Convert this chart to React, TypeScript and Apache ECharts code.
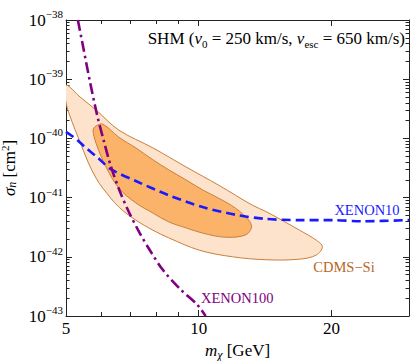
import React, { useEffect, useRef } from 'react';
import * as echarts from 'echarts';

// axis ranges (mass in GeV, cross-section as log10(sigma / cm^2))
const X_MIN = 5;
const X_MAX = 30;
const Y_MIN = -43;
const Y_MAX = -38;
const xMajorTicks = [10, 20];
const xMinorTicks = [5, 6, 7, 8, 9];
const xTickLabels = [5, 10, 20];
const yDecades = [-43, -42, -41, -40, -39, -38];
const yMinorMantissas = [2, 3, 4, 5, 6, 7, 8, 9];

// [m_chi (GeV), log10 sigma_n]
const cdmsOuter: [number, number][] = [
  [5.0, -39.1], [5.38, -39.3], [5.85, -39.52], [6.59, -39.86], [7.87, -40.16], [9.35, -40.48],
  [11.1, -40.79], [13.25, -41.13], [14.25, -41.24], [16.93, -41.55], [18.49, -41.72], [19.08, -41.83],
  [18.49, -41.97], [16.93, -42.04], [14.25, -42.05], [11.94, -42.0], [10.05, -41.89], [8.55, -41.68],
  [7.87, -41.55], [7.2, -41.38], [6.59, -41.16], [6.06, -40.84], [5.85, -40.67], [5.61, -40.4],
  [5.38, -40.06], [5.16, -39.72], [5.0, -39.39],
];
const cdmsInner: [number, number][] = [
  [5.76, -39.86], [5.85, -39.79], [6.06, -39.76], [6.59, -39.98], [7.2, -40.16], [7.87, -40.36],
  [8.55, -40.53], [9.35, -40.7], [10.21, -40.87], [11.1, -41.01], [12.13, -41.18], [12.98, -41.38],
  [13.18, -41.5], [12.78, -41.63], [11.51, -41.67], [10.21, -41.6], [9.35, -41.51], [8.55, -41.41],
  [7.87, -41.26], [7.2, -41.09], [6.59, -40.84], [6.16, -40.48], [5.85, -40.08],
];
const xenon10: [number, number][] = [
  [5.0, -39.89], [5.27, -40.01], [5.55, -40.16], [5.91, -40.33], [6.32, -40.52], [7.2, -40.72],
  [8.55, -40.96], [10.21, -41.16], [12.13, -41.29], [14.18, -41.36], [16.93, -41.38], [20.1, -41.38],
  [23.51, -41.4], [30.0, -41.38],
];
const xenon100: [number, number][] = [
  [5.32, -38.0], [5.49, -38.52], [5.67, -39.05], [5.88, -39.6], [6.1, -40.06], [6.32, -40.47],
  [6.62, -40.89], [6.94, -41.24], [7.35, -41.6], [7.75, -41.89], [8.29, -42.22], [9.06, -42.54],
  [9.9, -42.8], [10.37, -43.0],
];

const SERIF = 'Liberation Serif';
const lg = Math.log10;
const toXY = (arr: [number, number][]) => arr.map(([m, s]) => [lg(m), s]);

const yMinorTicks: number[] = [];
yDecades.slice(0, -1).forEach((d) => yMinorMantissas.forEach((k) => yMinorTicks.push(d + lg(k))));

const GRID = { left: 66, top: 20, width: 343, height: 296, containLabel: false, outerBoundsMode: 'none' };
const FRAME = '#222';

const tok = (size: number, extra: any = {}) => ({
  fontFamily: SERIF, fontSize: size, lineHeight: size, color: '#000', fontWeight: 'normal', ...extra,
});

function xAxisDef(gridIndex: number, position: string, ticks: number[], len: number, labels: boolean, line: boolean) {
  const ax: any = {
    type: 'value', gridIndex, position, min: lg(X_MIN), max: lg(X_MAX),
    splitLine: { show: false },
    axisLine: { show: line, onZero: false, lineStyle: { color: FRAME, width: 1 } },
    axisTick: { show: true, inside: true, length: len, customValues: ticks.map(lg), lineStyle: { color: FRAME, width: 1 } },
    axisLabel: {
      show: labels, customValues: xTickLabels.map(lg), margin: 4,
      color: '#000', fontFamily: SERIF, fontSize: 17,
      formatter: (v: number) => String(Math.round(Math.pow(10, v))),
    },
  };
  if (labels) {
    ax.name = '{i|m}{sub|\u03c7}{n| [GeV]}';
    ax.nameLocation = 'middle';
    ax.nameGap = 19;
    ax.nameTextStyle = {
      fontWeight: 'normal',
      rich: {
        n: tok(17, { verticalAlign: 'top' }),
        i: tok(17, { fontStyle: 'italic', verticalAlign: 'top' }),
        sub: tok(12, { fontStyle: 'italic', padding: [7, 0, 0, 0], verticalAlign: 'top' }),
      },
    };
  }
  return ax;
}
function yAxisDef(gridIndex: number, position: string, ticks: number[], len: number, labels: boolean, line: boolean) {
  const ax: any = {
    type: 'value', gridIndex, position, min: Y_MIN, max: Y_MAX,
    splitLine: { show: false },
    axisLine: { show: line, onZero: false, lineStyle: { color: FRAME, width: 1 } },
    axisTick: { show: true, inside: true, length: len, customValues: ticks, lineStyle: { color: FRAME, width: 1 } },
    axisLabel: {
      show: labels, customValues: yDecades, margin: 3,
      formatter: (v: number) => {
        const n = Math.round(v);
        return `{b|10}{s|${n < 0 ? '\u2212' : ''}${Math.abs(n)}}`;
      },
      rich: {
        b: tok(17, { verticalAlign: 'bottom' }),
        s: tok(11, { padding: [0, 0, 9, 0], verticalAlign: 'bottom' }),
      },
    },
  };
  if (labels) {
    ax.name = '{i|\u03c3}{sub|n}{n| [cm}{sup|2}{n|]}';
    ax.nameLocation = 'middle';
    ax.nameRotate = 90;
    ax.nameGap = 38;
    ax.nameTextStyle = {
      fontWeight: 'normal',
      rich: {
        n: tok(17, { verticalAlign: 'bottom' }),
        i: tok(17, { fontStyle: 'italic', verticalAlign: 'bottom' }),
        sub: tok(12, { fontStyle: 'italic', verticalAlign: 'bottom' }),
        sup: tok(11, { padding: [0, 0, 7, 0], verticalAlign: 'bottom' }),
      },
    };
  }
  return ax;
}

function regionItem(points: [number, number][], fill: string, stroke: string) {
  return (params: any, api: any) => {
    const pts = points.map(([m, s]) => api.coord([lg(m), s]));
    const cs = params.coordSys;
    return {
      type: 'polygon',
      shape: { points: pts, smooth: 0.35 },
      style: { fill, stroke, lineWidth: 1 },
      clipPath: { type: 'rect', shape: { x: cs.x, y: cs.y, width: cs.width, height: cs.height } },
    };
  };
}

export default function App() {
  const ref = useRef<HTMLDivElement>(null);
  useEffect(() => {
    if (!ref.current) return;
    const chart = echarts.init(ref.current, null, { renderer: 'svg' });
    const option: any = {
      animation: false,
      backgroundColor: '#fff',
      title: {
        text: '{n|SHM (}{i|v}{sub|0}{n| = 250 km/s, }{i|v}{sub|esc}{n| = 650 km/s)}',
        right: 8, top: 30, padding: 0,
        textStyle: {
          fontWeight: 'normal',
          rich: {
            n: tok(17, { verticalAlign: 'top' }),
            i: tok(17, { fontStyle: 'italic', verticalAlign: 'top' }),
            sub: tok(11, { padding: [8, 0, 0, 0], verticalAlign: 'top' }),
          },
        },
      },
      grid: [GRID, GRID, GRID, GRID],
      xAxis: [
        xAxisDef(0, 'bottom', xMajorTicks, 6, true, true),
        xAxisDef(1, 'top', xMajorTicks, 6, false, true),
        xAxisDef(2, 'bottom', xMinorTicks, 4, false, false),
        xAxisDef(3, 'top', xMinorTicks, 4, false, false),
      ],
      yAxis: [
        yAxisDef(0, 'left', yDecades, 6, true, true),
        yAxisDef(1, 'right', yDecades, 6, false, true),
        yAxisDef(2, 'left', yMinorTicks, 3.5, false, false),
        yAxisDef(3, 'right', yMinorTicks, 3.5, false, false),
      ],
      series: [
        {
          type: 'custom', name: 'CDMS-Si outer', xAxisIndex: 0, yAxisIndex: 0, silent: true, z: 1,
          data: [toXY(cdmsOuter)[0]],
          renderItem: regionItem(cdmsOuter, '#fde3cb', '#c8803d'),
        },
        {
          type: 'custom', name: 'CDMS-Si inner', xAxisIndex: 0, yAxisIndex: 0, silent: true, z: 2,
          data: [toXY(cdmsInner)[0]],
          renderItem: regionItem(cdmsInner, '#fbb36a', '#c8803d'),
        },
        {
          type: 'line', name: 'XENON10', xAxisIndex: 0, yAxisIndex: 0, z: 3,
          data: toXY(xenon10), symbol: 'none', smooth: 0.3, clip: true,
          lineStyle: { color: '#1a1aff', width: 2.6, type: [9, 5] },
        },
        {
          type: 'line', name: 'XENON100', xAxisIndex: 0, yAxisIndex: 0, z: 4,
          data: toXY(xenon100), symbol: 'none', smooth: 0.3, clip: true,
          lineStyle: { color: '#800080', width: 2.6, type: [11, 4, 2.5, 4] },
        },
      ],
      graphic: [
        {
          type: 'text', x: 367, y: 210, z: 10,
          style: { text: 'XENON10', align: 'center', verticalAlign: 'middle', fontFamily: SERIF, fontSize: 14.5, fill: '#1a1aff' },
        },
        {
          type: 'text', x: 201, y: 298, z: 10,
          style: { text: 'XENON100', align: 'left', verticalAlign: 'middle', fontFamily: SERIF, fontSize: 14.5, fill: '#800080' },
        },
        {
          type: 'text', x: 344, y: 267, z: 10,
          style: { text: 'CDMS\u2212Si', align: 'center', verticalAlign: 'middle', fontFamily: SERIF, fontSize: 14.5, fill: '#b8661f' },
        },
      ],
    };
    chart.setOption(option);
    return () => chart.dispose();
  }, []);
  return <div ref={ref} style={{ position: 'fixed', left: 0, top: 0, width: 413, height: 361 }} />;
}
